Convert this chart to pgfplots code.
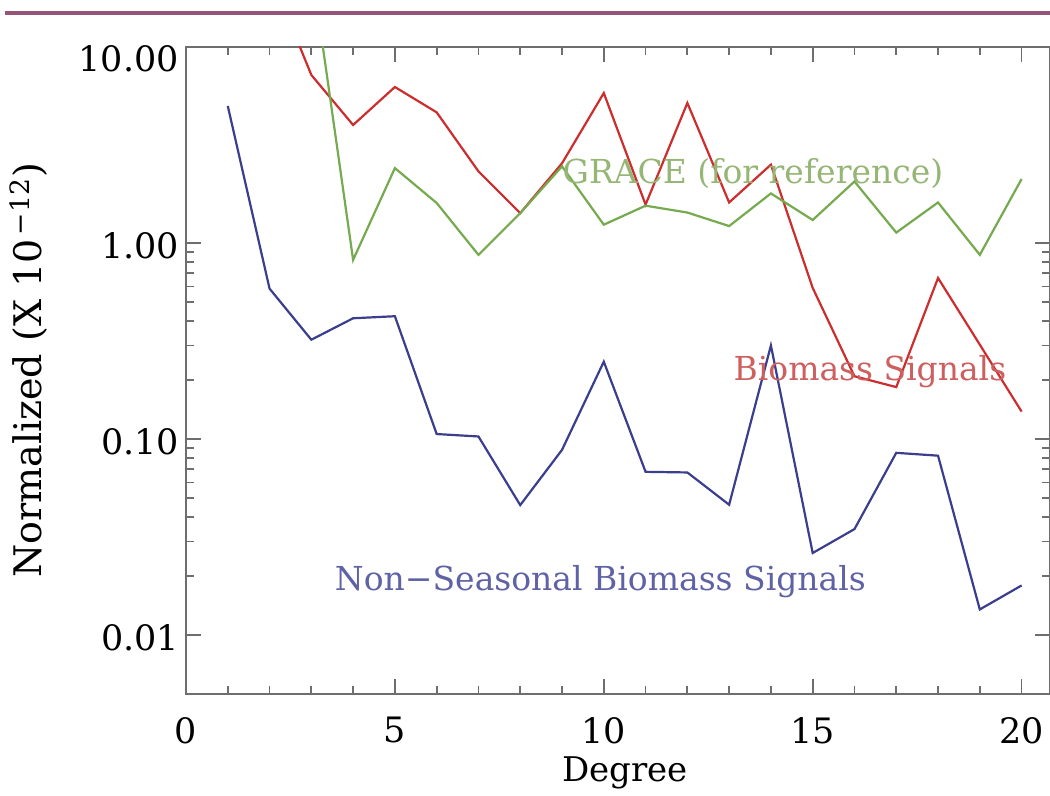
\documentclass[border=0pt]{standalone}
\usepackage{fontspec}
\setmainfont{DejaVu Serif}
\usepackage{pgfplots}
\pgfplotsset{compat=1.18}
\definecolor{topline}{RGB}{150,85,120}
\definecolor{blueL}{RGB}{58,62,140}
\definecolor{redL}{RGB}{205,45,45}
\definecolor{greenL}{RGB}{118,170,78}
\definecolor{blueT}{RGB}{95,98,165}
\definecolor{redT}{RGB}{205,95,95}
\definecolor{greenT}{RGB}{150,182,118}
\definecolor{axisgray}{RGB}{110,110,110}
\begin{document}
\begin{tikzpicture}
\useasboundingbox (0pt,0pt) rectangle (525pt,398pt);
\draw[topline, line width=1.6pt] (2.5pt,391.5pt) -- (525pt,391.5pt);
\begin{axis}[
  at={(93pt,51pt)}, anchor=south west,
  scale only axis, width=432pt, height=323.5pt,
  ymode=log, xmin=0, xmax=20.68, ymin=0.005, ymax=10,
  xtick={0,5,10,15,20}, xticklabels={0,5,10,15,20},
  minor x tick num=4,
  ytick={0.01,0.1,1}, yticklabels={0.01,0.10,1.00},
  extra y ticks={10}, extra y tick labels={10.00},
  extra y tick style={yticklabel style={yshift=-4.5pt}},
  xtick pos=both, ytick pos=both,
  tick align=inside,
  major tick length=7.5pt, minor tick length=4pt,
  axis line style={axisgray, line width=0.9pt},
  major tick style={axisgray, line width=0.9pt},
  minor tick style={axisgray, line width=0.9pt},
  tick label style={font=\fontsize{17.5}{17.5}\selectfont, text=black},
  xticklabel style={yshift=-8pt},
  yticklabel style={yshift=-1.5pt},
  xlabel={Degree},
  xlabel style={at={(axis description cs:0.5,0)}, anchor=base, yshift=-44pt, xshift=3.5pt, font=\fontsize{17}{17}\selectfont},
  ylabel={Normalized (X 10\textsuperscript{\,−12})},
  ylabel style={at={(axis description cs:-0.1667,0.5)}, anchor=base, rotate=0, font=\fontsize{19}{19}\selectfont},
]
\addplot[blueL, line width=1.1pt] coordinates {
(1,5.0) (2,0.585) (3,0.321) (4,0.413) (5,0.423) (6,0.106) (7,0.103) (8,0.046) (9,0.088) (10,0.248)
(11,0.068) (12,0.0675) (13,0.0462) (14,0.300) (15,0.0262) (16,0.0347) (17,0.085) (18,0.0822) (19,0.0135) (20,0.0179)};
\addplot[redL, line width=1.1pt] coordinates {
(2,24) (3,7.2) (4,4.0) (5,6.25) (6,4.64) (7,2.32) (8,1.42) (9,2.55) (10,5.82)
(11,1.57) (12,5.18) (13,1.61) (14,2.51) (15,0.59) (16,0.209) (17,0.184) (18,0.663) (19,0.303) (20,0.138)};
\addplot[greenL, line width=1.1pt] coordinates {
(3,26) (4,0.82) (5,2.41) (6,1.60) (7,0.87) (8,1.42) (9,2.46) (10,1.24)
(11,1.55) (12,1.43) (13,1.22) (14,1.79) (15,1.31) (16,2.06) (17,1.13) (18,1.61) (19,0.87) (20,2.12)};
\node[anchor=base, text=greenT, font=\fontsize{16.5}{16.5}\selectfont] at (axis cs:13.57,2.008) {GRACE (for reference)};
\node[anchor=base, text=redT, font=\fontsize{16.5}{16.5}\selectfont] at (axis cs:16.37,0.1983) {Biomass Signals};
\node[anchor=base, text=blueT, font=\fontsize{16.5}{16.5}\selectfont] at (axis cs:9.92,0.01683) {Non−Seasonal Biomass Signals};
\end{axis}
\end{tikzpicture}
\end{document}
